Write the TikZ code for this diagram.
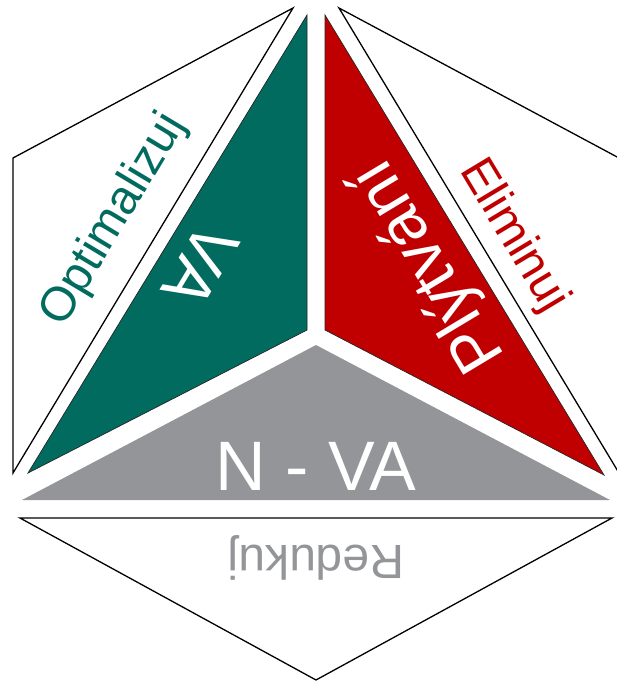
\documentclass[tikz,border=0pt]{standalone}
\usepackage{fontspec}
\setmainfont{Liberation Sans}
\definecolor{vateal}{RGB}{0,107,94}
\definecolor{wastered}{RGB}{192,0,0}
\definecolor{nvagray}{RGB}{147,149,152}
\begin{document}
\begin{tikzpicture}[x=1pt,y=-1pt,
  flap/.style={draw=black, line width=1.3pt, fill=white, line join=miter},
  edge/.style={draw=black!85, line width=0.7pt, line join=miter},
  lbl/.style={inner sep=0pt, font=\fontsize{48}{48}\selectfont},
  big/.style={inner sep=0pt, text=white, font=\fontsize{66}{66}\selectfont}]
\useasboundingbox (0,0) rectangle (617,681);
% outer white flaps
\draw[flap] (13,158) -- (293,8) -- (13,473) -- cycle;
\draw[flap] (619,158) -- (339,8) -- (619,473) -- cycle;
\draw[flap] (20,518) -- (612,518) -- (316,680) -- cycle;
% inner coloured triangles
\draw[edge, fill=vateal] (307,15) -- (307,330) -- (28,473) -- cycle;
\draw[edge, fill=wastered] (325,15) -- (325,330) -- (604,475) -- cycle;
\fill[nvagray] (316,345) -- (610,500) -- (22,500) -- cycle;
% labels
\node[lbl, text=vateal, rotate=59] (opt) at (114,220) {Optimalizuj};
\node[lbl, text=wastered, rotate=-59] (eli) at (513,236) {Eliminuj};
\node[lbl, text=nvagray, rotate=180] (red) at (316,558) {Redukuj};
\node[big, rotate=239] (va) at (201,266) {VA};
\node[big, rotate=121] (ply) at (430,265) {Plýtvání};
\node[big, font=\fontsize{70}{70}\selectfont] (nva) at (316,466) {N - VA};
\end{tikzpicture}
\end{document}
